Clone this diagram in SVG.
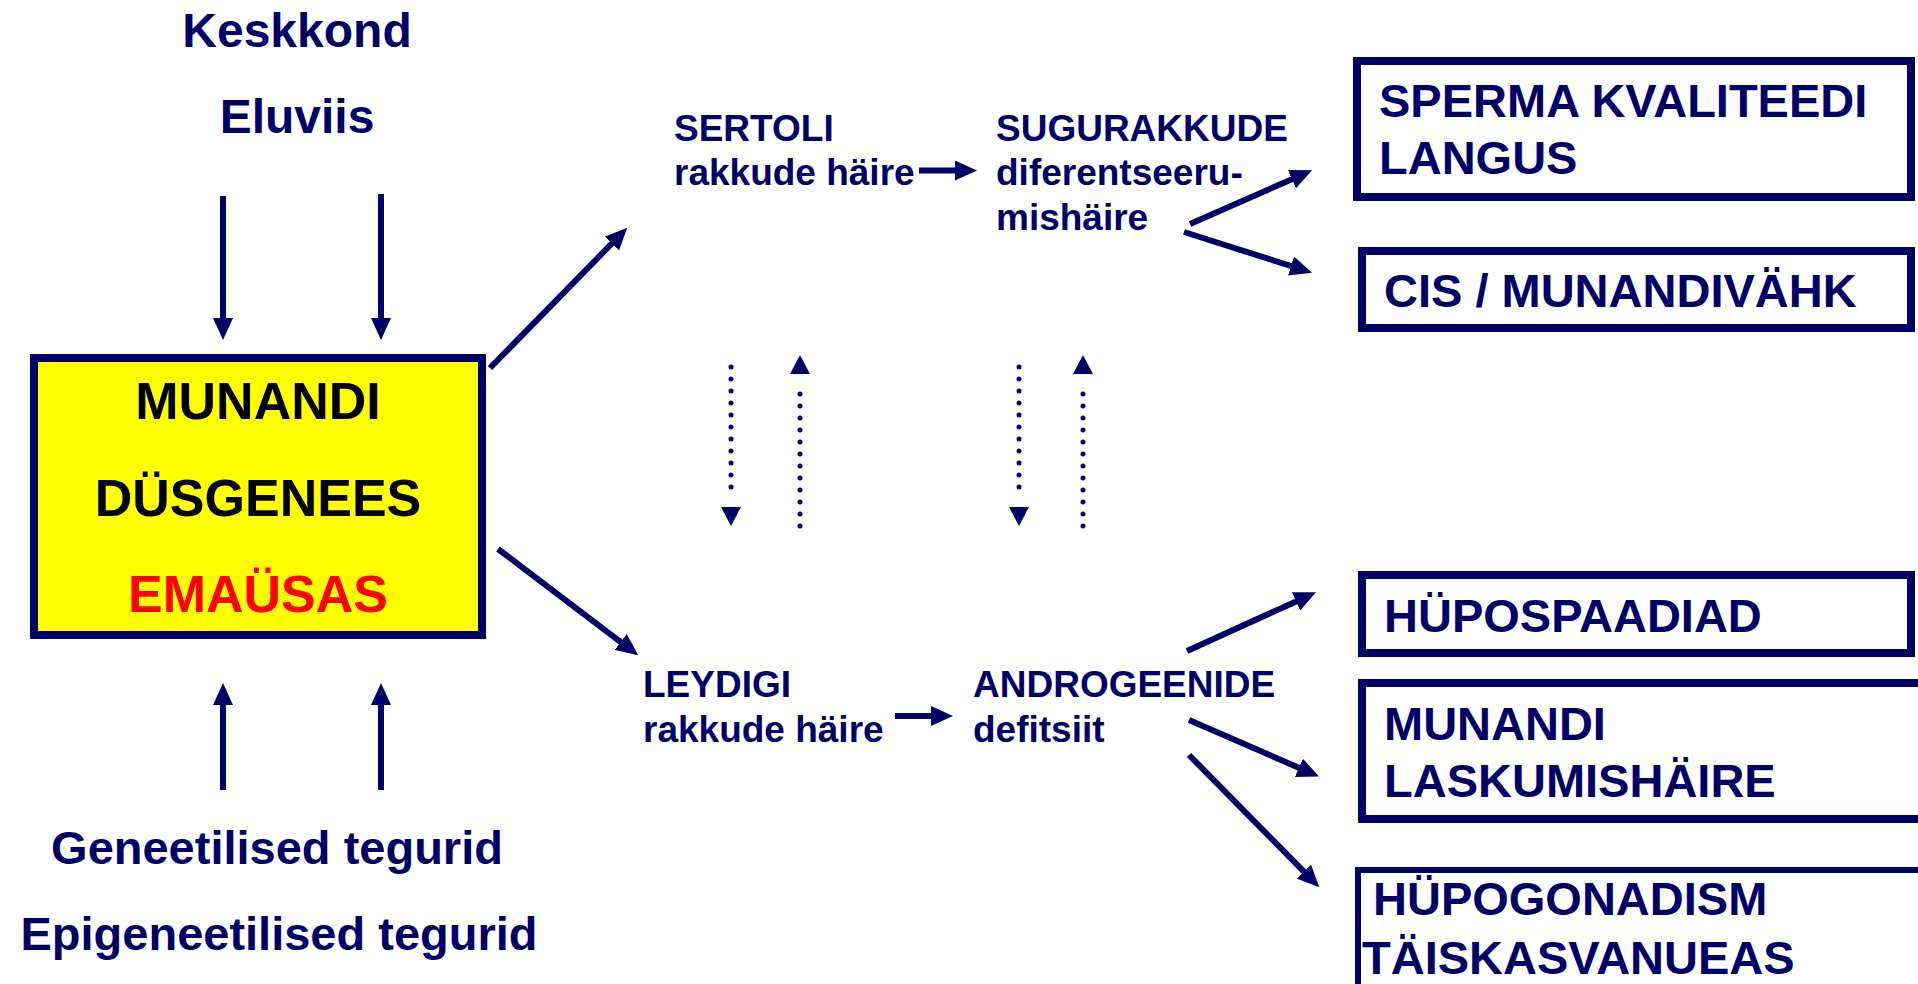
<svg xmlns="http://www.w3.org/2000/svg" width="1918" height="984" viewBox="0 0 1918 984">
<style>
text{font-family:"Liberation Sans",Arial,sans-serif;font-weight:bold;fill:#000066}
.lbl{font-size:48px}
.mid{font-size:37px}
.big{font-size:47px}
.main{font-size:52px;fill:#000000;text-anchor:middle}
.red{fill:#ff0000}
.box{fill:#ffffff;stroke:#000066;stroke-width:8}
.ln{stroke:#000066;stroke-width:6;fill:none}
.dot{stroke:#000066;stroke-width:5;stroke-linecap:round;stroke-dasharray:0 12;fill:none}
</style>
<defs>
<marker id="ah" markerUnits="userSpaceOnUse" viewBox="0 0 22 20" markerWidth="22" markerHeight="20" refX="5" refY="10" orient="auto">
<path d="M0,0 L22,10 L0,20 z" fill="#000066"/>
</marker>
<marker id="dh" markerUnits="userSpaceOnUse" viewBox="0 0 27 20" markerWidth="27" markerHeight="20" refX="0" refY="10" orient="auto">
<path d="M8,0 L27,10 L8,20 z" fill="#000066"/>
</marker>
</defs>
<rect width="1918" height="984" fill="#ffffff"/>

<g id="keskkond"><text class="lbl" x="297" y="47" text-anchor="middle">Keskkond</text></g>
<g id="eluviis"><text class="lbl" x="297" y="133" text-anchor="middle">Eluviis</text></g>
<g id="geneetilised"><text class="lbl" x="277" y="864" text-anchor="middle" style="font-size:47px">Geneetilised tegurid</text></g>
<g id="epigeneetilised"><text class="lbl" x="279" y="950" text-anchor="middle" style="font-size:47px">Epigeneetilised tegurid</text></g>

<g id="munandi-dusgenees">
<rect x="34" y="358" width="448" height="277" fill="#ffff00" stroke="#000066" stroke-width="8"/>
<text class="main" x="258" y="419">MUNANDI</text>
<text class="main" x="258" y="516">DÜSGENEES</text>
<text class="main red" x="258" y="612">EMAÜSAS</text>
</g>

<g id="sertoli">
<text class="mid" x="674" y="141">SERTOLI</text>
<text class="mid" x="674" y="185">rakkude häire</text>
</g>
<g id="sugurakkude">
<text class="mid" x="996" y="141">SUGURAKKUDE</text>
<text class="mid" x="996" y="185">diferentseeru-</text>
<text class="mid" x="996" y="230">mishäire</text>
</g>
<g id="leydigi">
<text class="mid" x="643" y="697">LEYDIGI</text>
<text class="mid" x="643" y="742">rakkude häire</text>
</g>
<g id="androgeenide">
<text class="mid" x="973" y="697">ANDROGEENIDE</text>
<text class="mid" x="973" y="742">defitsiit</text>
</g>

<g id="sperma">
<rect class="box" x="1357" y="61" width="554" height="136"/>
<text class="big" x="1379" y="117">SPERMA KVALITEEDI</text>
<text class="big" x="1379" y="174">LANGUS</text>
</g>
<g id="cis">
<rect class="box" x="1362" y="251" width="549" height="77"/>
<text class="big" x="1384" y="307">CIS / MUNANDIVÄHK</text>
</g>
<g id="hypospaadiad">
<rect class="box" x="1362" y="575" width="549" height="78"/>
<text class="big" x="1384" y="632">HÜPOSPAADIAD</text>
</g>
<g id="laskumishaire">
<rect class="box" x="1362" y="683" width="620" height="136"/>
<text class="big" x="1384" y="740">MUNANDI</text>
<text class="big" x="1384" y="797">LASKUMISHÄIRE</text>
</g>
<g id="hypogonadism">
<rect class="box" x="1358" y="870" width="620" height="200" style="stroke-width:6"/>
<text class="big" x="1373" y="915">HÜPOGONADISM</text>
<text class="big" x="1362" y="974">TÄISKASVANUEAS</text>
</g>

<g id="connectors">
<line class="ln" x1="223" y1="196" x2="223" y2="323" marker-end="url(#ah)"/>
<line class="ln" x1="381" y1="194" x2="381" y2="323" marker-end="url(#ah)"/>
<line class="ln" x1="223" y1="790" x2="223" y2="700" marker-end="url(#ah)"/>
<line class="ln" x1="381" y1="790" x2="381" y2="700" marker-end="url(#ah)"/>
<line class="ln" x1="490" y1="368" x2="615.4" y2="239.9" marker-end="url(#ah)"/>
<line class="ln" x1="498" y1="549" x2="624.7" y2="645.1" marker-end="url(#ah)"/>
<line class="ln" x1="919" y1="170.5" x2="960" y2="170.5" marker-end="url(#ah)"/>
<line class="ln" x1="1190" y1="224" x2="1296.5" y2="177.2" marker-end="url(#ah)"/>
<line class="ln" x1="1184" y1="232" x2="1295.8" y2="267.5" marker-end="url(#ah)"/>
<line class="ln" x1="895" y1="716" x2="936" y2="716" marker-end="url(#ah)"/>
<line class="ln" x1="1187" y1="651" x2="1300.6" y2="599.4" marker-end="url(#ah)"/>
<line class="ln" x1="1189" y1="720" x2="1303.5" y2="769.8" marker-end="url(#ah)"/>
<line class="ln" x1="1189" y1="755" x2="1307.4" y2="875.2" marker-end="url(#ah)"/>
<line class="dot" x1="731" y1="367" x2="731" y2="499" marker-end="url(#dh)"/>
<line class="dot" x1="800" y1="526" x2="800" y2="382" marker-end="url(#dh)"/>
<line class="dot" x1="1019" y1="367" x2="1019" y2="499" marker-end="url(#dh)"/>
<line class="dot" x1="1083" y1="526" x2="1083" y2="382" marker-end="url(#dh)"/>
</g>
</svg>
